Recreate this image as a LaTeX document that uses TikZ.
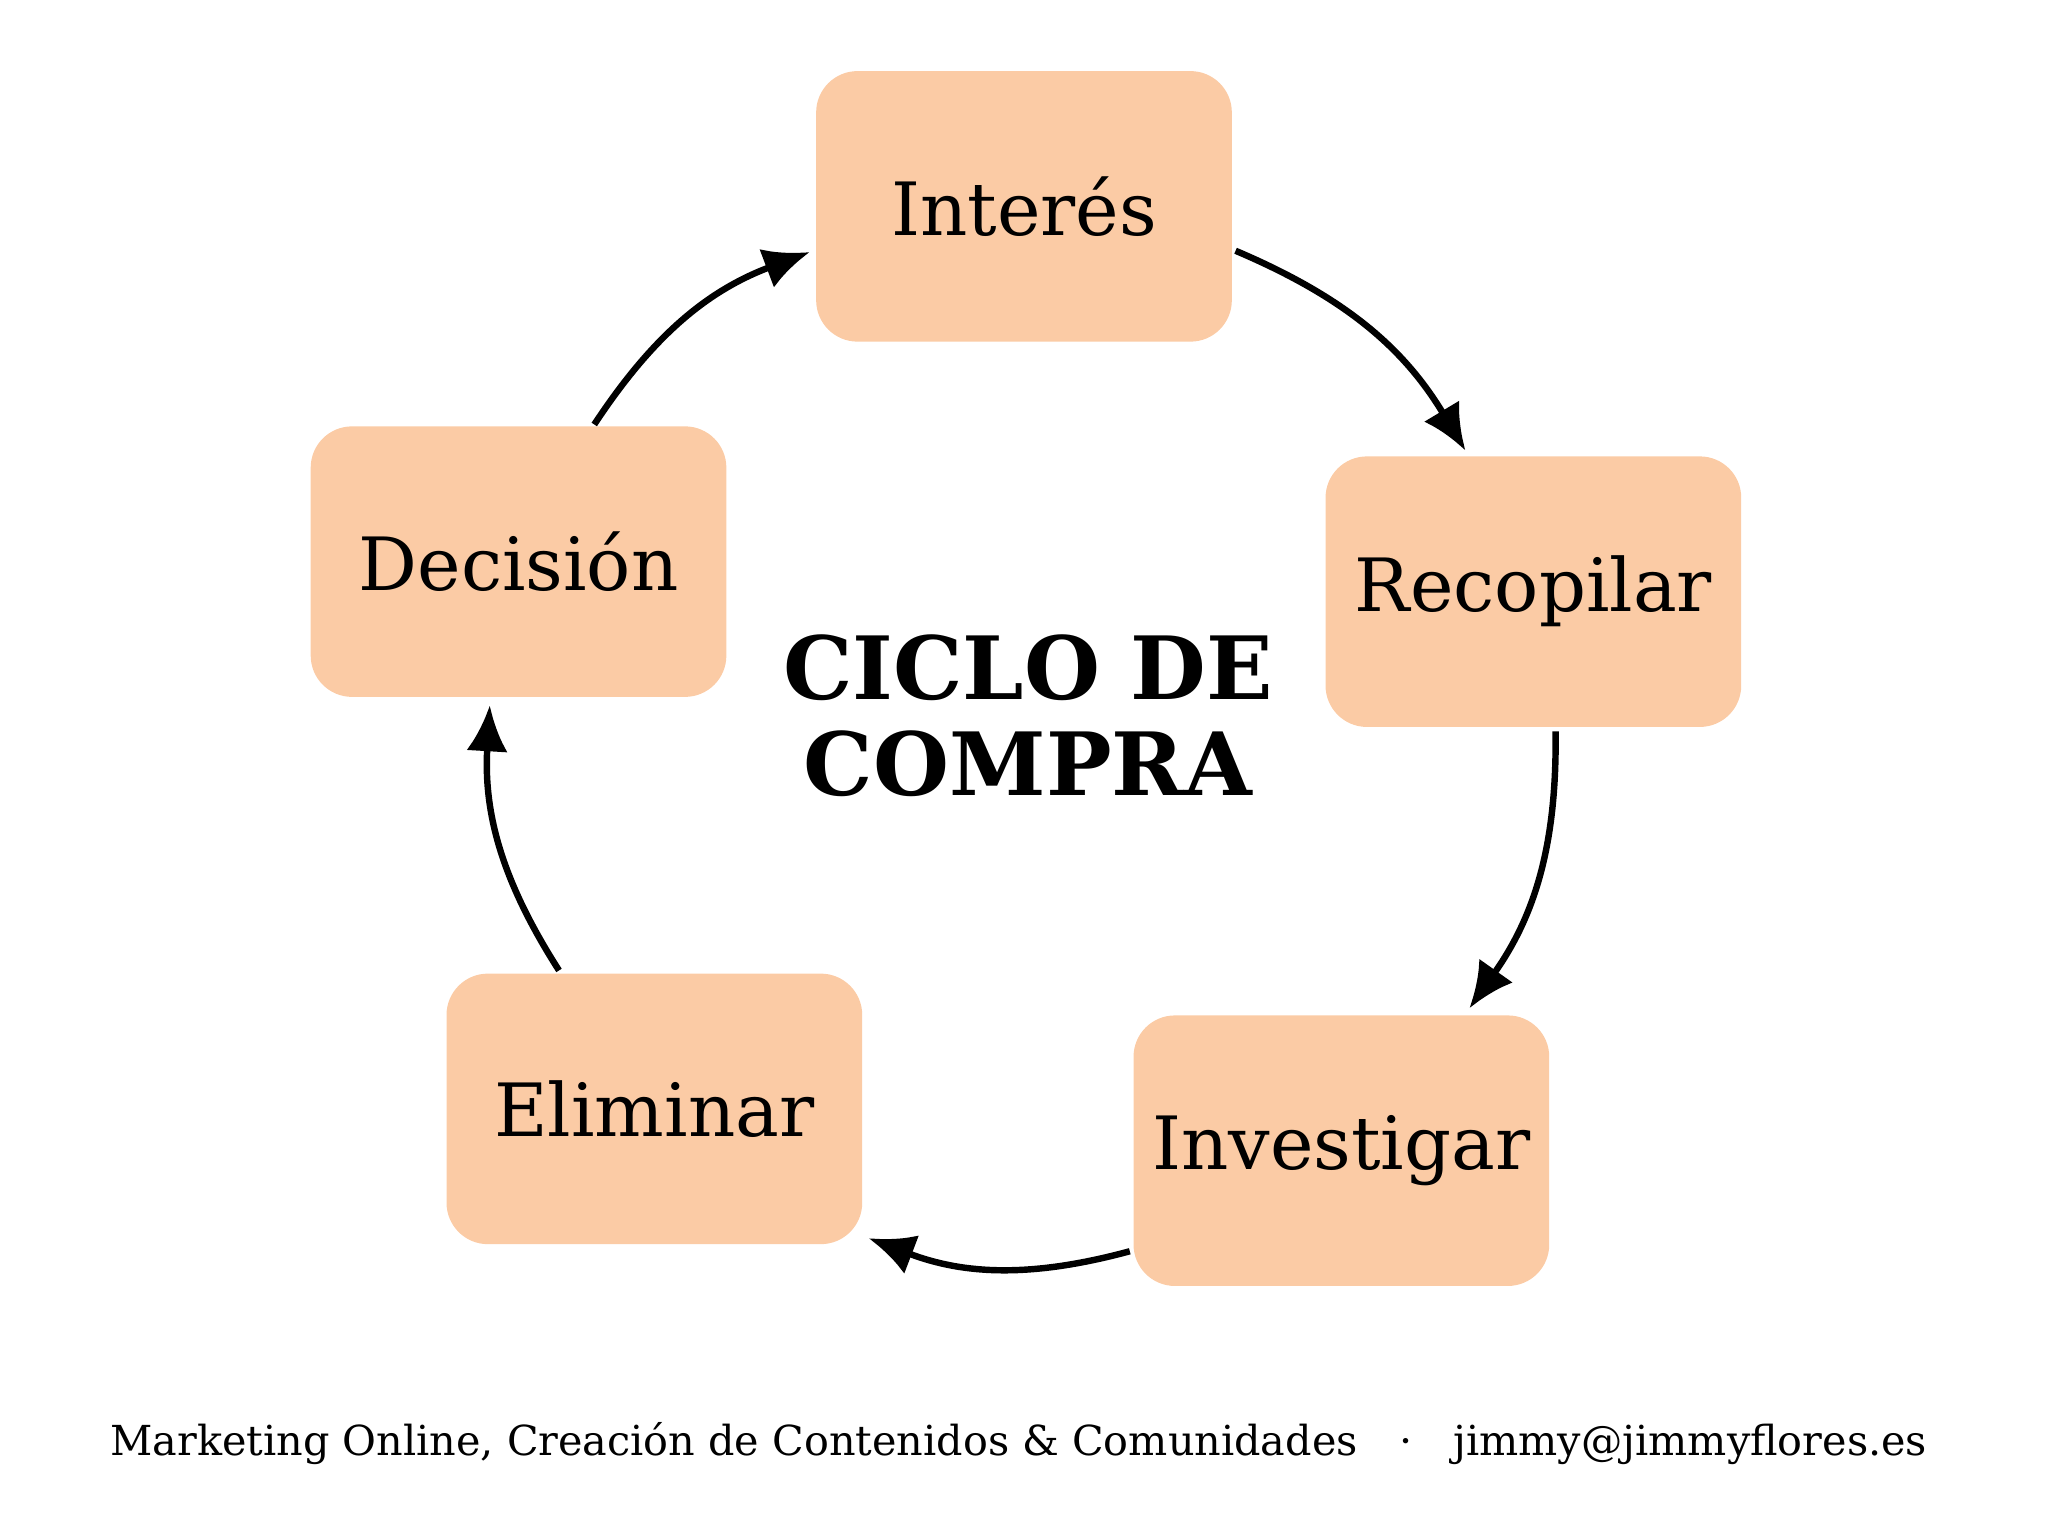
\documentclass[tikz,border=0pt]{standalone}
\usepackage{fontspec}
\setmainfont{DejaVu Serif}
\usetikzlibrary{arrows.meta}
\definecolor{boxc}{HTML}{FBCBA5}
\begin{document}
\begin{tikzpicture}[x=0.01cm,y=-0.01cm,
  stage/.style={fill=boxc,rounded corners=9pt,minimum width=90.5pt,minimum height=58.9pt,font=\fontsize{16}{18}\selectfont,inner sep=0pt},
  conn/.style={line width=1.4pt,-{Latex[length=10pt,width=9pt]}}]
\useasboundingbox (0,0) rectangle (1568,1176);
\node[stage] (int) at (784,158) {Interés};
\node[stage] (rec) at (1174,453) {Recopilar};
\node[stage] (inv) at (1027,881) {Investigar};
\node[stage] (eli) at (501,849) {Eliminar};
\node[stage] (dec) at (397,430) {Decisión};
\node[font=\fontsize{19}{21}\selectfont\bfseries,align=center] (title) at (787,548) {CICLO DE\\COMPRA};
\node[font=\fontsize{9}{11}\selectfont] (foot) at (780,1105) {Marketing Online, Creación de Contenidos \& Comunidades\hspace{1em}·\hspace{1em}jimmy@jimmyflores.es};
\coordinate (a1) at (455,325); \coordinate (b1) at (620,193);
\coordinate (a2) at (946,192); \coordinate (b2) at (1122,345);
\coordinate (a3) at (1191,560); \coordinate (b3) at (1125,772);
\coordinate (a4) at (865,958); \coordinate (b4) at (665,948);
\coordinate (a5) at (428,743); \coordinate (b5) at (375,540);
\draw[conn] (a1) to[bend left=18] (b1);
\draw[conn] (a2) to[bend left=18] (b2);
\draw[conn] (a3) to[bend left=18] (b3);
\draw[conn] (a4) to[bend left=18] (b4);
\draw[conn] (a5) to[bend left=18] (b5);
\end{tikzpicture}
\end{document}
